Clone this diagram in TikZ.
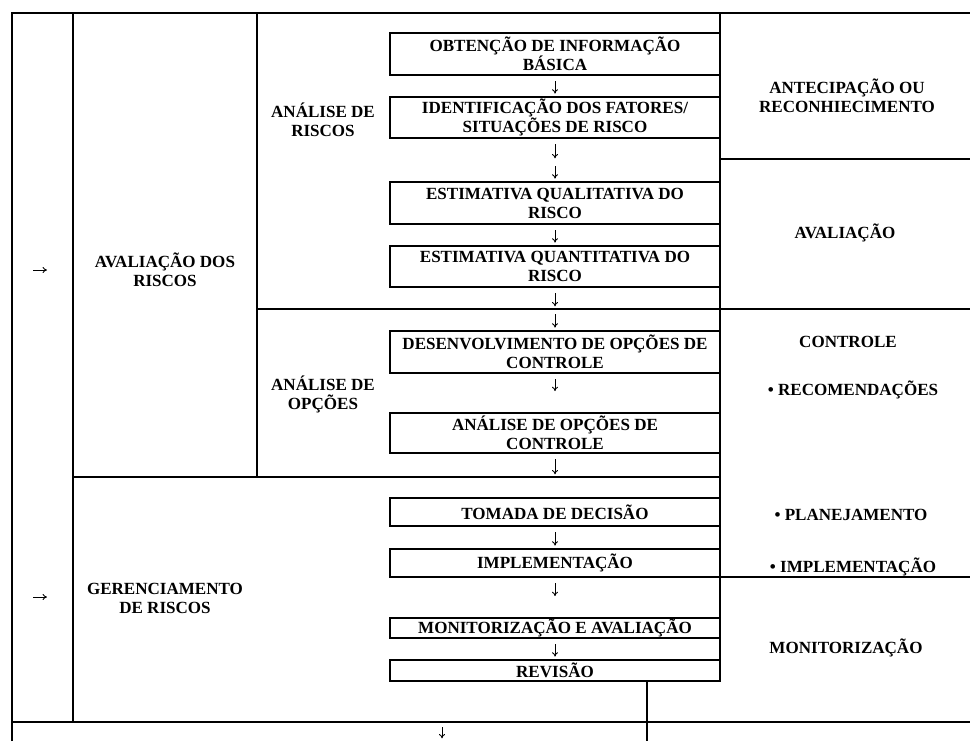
\documentclass[tikz,border=0pt]{standalone}
\usepackage{fontspec}
\setmainfont{Liberation Serif}
\usepackage{tikz}
\usetikzlibrary{positioning}
\usetikzlibrary{calc}
\usetikzlibrary{arrows.meta}

\begin{document}
\begin{tikzpicture}[x=0.02cm, y=-0.02cm, line width=0.9pt,
    every node/.style={font=\fontsize{9.7pt}{10.8pt}\selectfont\bfseries, align=center},
    stepbox/.style={draw, minimum width=6.6cm, inner sep=0pt},
    arrowline/.style={-{To[length=2.5pt,width=3.5pt]}, line width=0.5pt},
    flow/.style={arrowline, shorten <=3pt, shorten >=1.5pt}]

    \useasboundingbox (0,0) rectangle (970,741);

    % table lines
    \draw (12,741) -- (12,13) -- (970,13);
    \draw (73,13) -- (73,722);
    \draw (257,13) -- (257,477);
    \draw (720,13) -- (720,681);
    \draw (647,681) -- (647,741);
    \draw (720,159) -- (970,159);
    \draw (257,309) -- (970,309);
    \draw (73,477) -- (720,477);
    \draw (720,577) -- (970,577);
    \draw (12,722) -- (970,722);

    % steps
    \node[stepbox, minimum height=0.84cm] (b1) at (555,54) {OBTENÇÃO DE INFORMAÇÃO\\BÁSICA};
    \node[stepbox, minimum height=0.82cm] (b2) at (555,117.5) {IDENTIFICAÇÃO DOS FATORES/\\SITUAÇÕES DE RISCO};
    \node[stepbox, minimum height=0.84cm] (b3) at (555,203) {ESTIMATIVA QUALITATIVA DO\\RISCO};
    \node[stepbox, minimum height=0.82cm] (b4) at (555,266.5) {ESTIMATIVA QUANTITATIVA DO\\RISCO};
    \node[stepbox, minimum height=0.84cm] (b5) at (555,352) {DESENVOLVIMENTO DE OPÇÕES DE\\CONTROLE};
    \node[stepbox, minimum height=0.80cm] (b6) at (555,433) {ANÁLISE DE OPÇÕES DE\\CONTROLE};
    \node[stepbox, minimum height=0.56cm] (b7) at (555,512) {TOMADA DE DECISÃO};
    \node[stepbox, minimum height=0.56cm] (b8) at (555,563) {IMPLEMENTAÇÃO};
    \node[stepbox, minimum height=0.40cm] (b9) at (555,628) {MONITORIZAÇÃO E AVALIAÇÃO};
    \node[stepbox, minimum height=0.42cm] (b10) at (555,670.5) {REVISÃO};

    \coordinate (m23) at (555,161);
    \coordinate (m45) at (555,309);
    \coordinate (m67) at (555,477);

    \draw[flow] (b1) -- (b2);
    \draw[flow] (b2) -- (m23);
    \draw[flow] (m23) -- (b3);
    \draw[flow] (b3) -- (b4);
    \draw[flow] (b4) -- (m45);
    \draw[flow] (m45) -- (b5);
    \draw[flow, shorten >=12pt] (b5) -- (b6);
    \draw[flow] (b6) -- (m67);
    \draw[flow] (b7) -- (b8);
    \draw[flow, shorten >=12pt] (b8) -- (b9);
    \draw[flow] (b9) -- (b10);

    \coordinate (down0) at (442,722);
    \coordinate (down1) at (442,741);
    \draw[flow] (down0) -- (down1);

    % left column
    \coordinate (in1) at (33,270);
    \coordinate (out1) at (47,270);
    \coordinate (in2) at (33,597);
    \coordinate (out2) at (47,597);
    \draw[arrowline] (in1) -- (out1);
    \draw[arrowline] (in2) -- (out2);

    \node (avaliacao) at (165,270) {AVALIAÇÃO DOS\\RISCOS};
    \node (gerenciamento) at (165,598) {GERENCIAMENTO\\DE RISCOS};
    \node (anriscos) at (323,120) {ANÁLISE DE\\RISCOS};
    \node (anopcoes) at (323,394) {ANÁLISE DE\\OPÇÕES};

    % right column
    \node (antecipacao) at (847,96) {ANTECIPAÇÃO OU\\RECONHIECIMENTO};
    \node (avaliacaoR) at (845,233) {AVALIAÇÃO};
    \node (controle) at (848,342) {CONTROLE};
    \node (recomend) at (853,390) {\textbullet\ RECOMENDAÇÕES};
    \node (planej) at (851,515) {\textbullet\ PLANEJAMENTO};
    \node (implR) at (853,567) {\textbullet\ IMPLEMENTAÇÃO};
    \node (monitR) at (846,648) {MONITORIZAÇÃO};

\end{tikzpicture}
\end{document}
